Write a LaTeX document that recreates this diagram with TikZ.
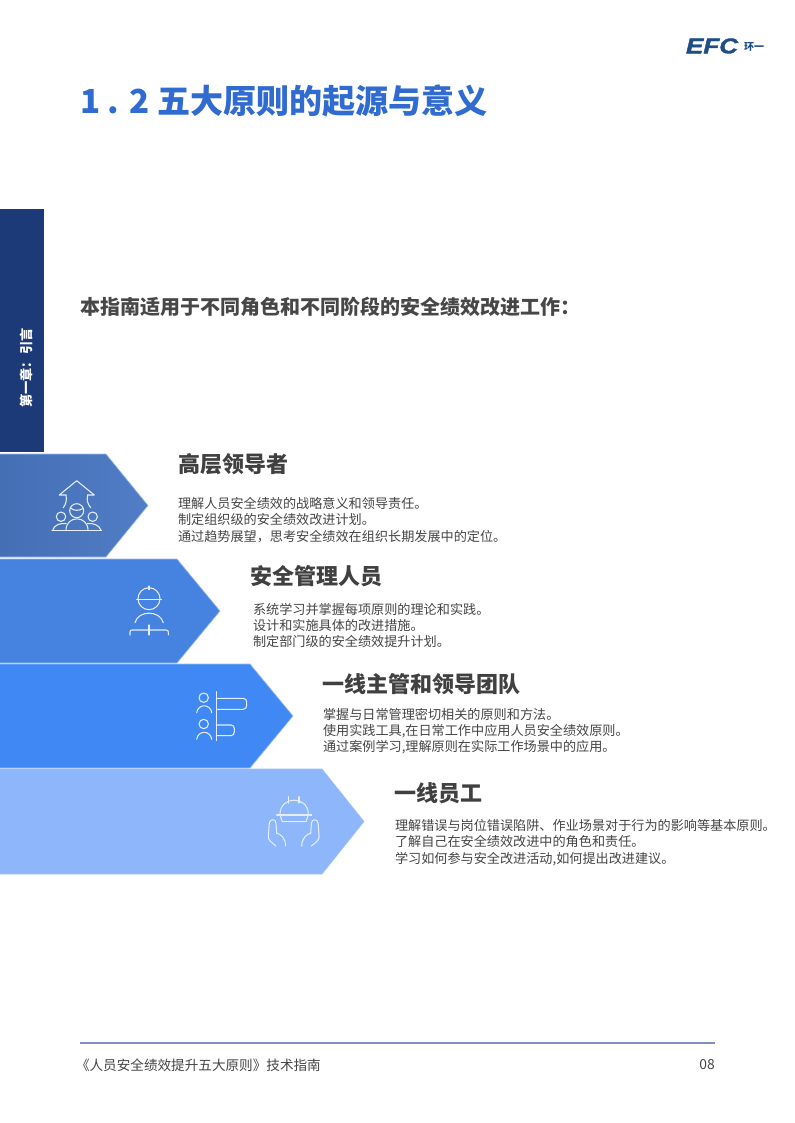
\documentclass[tikz,border=0pt]{standalone}
\usepackage{fontspec}
\setmainfont{Noto Sans CJK SC}
\newfontfamily\logofont{Liberation Sans}[BoldItalicFeatures={FakeBold=1.5}]
\definecolor{titleblue}{HTML}{2F6BD0}
\definecolor{navy}{HTML}{1C3A78}
\definecolor{headgrey}{HTML}{404040}
\definecolor{bodygrey}{HTML}{454545}
\definecolor{rulecol}{HTML}{7F8FC0}
\definecolor{iconline}{HTML}{E3EDFC}
\definecolor{edgelight}{HTML}{9DBDF2}
\definecolor{cA}{HTML}{4A78C4}
\definecolor{cB}{HTML}{4683E0}
\definecolor{cC}{HTML}{4089F5}
\definecolor{cD}{HTML}{8DB6FB}
\definecolor{logoblue}{HTML}{1F4E86}
\tikzset{
  x=0.75pt,y=-0.75pt,
  txt/.style={anchor=west,inner sep=0pt,outer sep=0pt},
  headtxt/.style={txt,text=headgrey,font=\fontsize{16.5}{20}\selectfont\bfseries},
  bodytxt/.style={txt,text=bodygrey,align=left,font=\fontsize{9.85}{12.25}\selectfont},
  chevron/.style={draw=edgelight,line width=0.5pt},
  icon/.style={draw=iconline,line width=0.8pt,line cap=round,line join=round},
}
\begin{document}
\begin{tikzpicture}
\useasboundingbox (0,0) rectangle (794,1123);
\fill[white] (0,0) rectangle (794,1123);
% sidebar
\fill[navy] (0,209) rectangle (44,452);
\node[inner sep=0pt,rotate=90,text=white,font=\fontsize{9.9}{11}\selectfont\bfseries] (side) at (26,368) {第一章：引言};
% logo
\node[txt,xscale=1.22,text=logoblue,font=\logofont\fontsize{16}{20}\selectfont\bfseries\itshape] (logo) at (686,46) {EFC};
\node[txt,text=logoblue,font=\fontsize{7.5}{9}\selectfont\bfseries] (logocn) at (744,47) {环一};
% title
\node[txt,text=titleblue,font=\fontsize{24.8}{30}\selectfont\bfseries] (title) at (80,101) {1 . 2 五大原则的起源与意义};
\node[txt,text=black!72,font=\fontsize{15}{18}\selectfont\bfseries] (sub) at (80,307) {本指南适用于不同角色和不同阶段的安全绩效改进工作：};
% chevrons
\path[chevron,left color=cA!92!black,right color=cA!96!white] (-3,454) -- (106,454) -- (148,505.5) -- (106,557) -- (-3,557) -- cycle;
\path[chevron,fill=cB] (-3,559) -- (177,559) -- (220,611) -- (177,663) -- (-3,663) -- cycle;
\path[chevron,fill=cC] (-3,664) -- (250,664) -- (293,716) -- (250,768) -- (-3,768) -- cycle;
\path[chevron,fill=cD,draw=cD!85!white] (-3,769) -- (322,769) -- (364,821.5) -- (322,874) -- (-3,874) -- cycle;
% icon 1
\draw[icon] (66,495) -- (59.3,495) -- (76.7,480.7) -- (94.3,495) -- (87.7,495);
\draw[icon] (66,495) .. controls (67,500) and (66,504) .. (63.3,507.7);
\draw[icon] (87.7,495) .. controls (86.5,500) and (87.5,504) .. (90.7,507.7);
\draw[icon] (76.7,510.7) circle (7);
\draw[icon] (70.5,508) .. controls (74,511) and (79,511) .. (83,508.5);
\draw[icon] (61,516.7) circle (4.7);
\draw[icon] (92.7,516.7) circle (4.7);
\draw[icon] (52,530.3) -- (101.7,530.3);
\draw[icon] (66,530.3) .. controls (66,515) and (88,515) .. (88,530.3);
\draw[icon] (52.7,530.3) .. controls (54,525) and (60,523) .. (66,523.5);
\draw[icon] (101,530.3) .. controls (99.5,525) and (93,523) .. (87.5,523.5);
% icon 2
\draw[icon] (149,598.7) circle (11);
\draw[icon] (136.7,599.3) -- (161.7,599.3);
\draw[icon] (149,586) -- (149,589.5);
\draw[icon] (135,622.7) .. controls (138,610) and (160,610) .. (163.3,622.7);
\draw[icon] (130,635) -- (130,632) .. controls (130,630.5) and (131,630) .. (132,630) -- (166,630) .. controls (167.5,630) and (168.3,630.5) .. (168.3,632) -- (168.3,635);
\draw[icon] (149,625) -- (149,635);
% icon 3
\draw[icon] (203.7,697.7) circle (4.7);
\draw[icon] (196.7,712.7) .. controls (198,703.5) and (210.5,703.5) .. (211.7,712.7);
\draw[icon] (203.7,724) circle (4.7);
\draw[icon] (196.7,739.3) .. controls (198,730) and (210.5,730) .. (211.7,739.3);
\draw[icon] (216.7,691.7) -- (216.7,740.7);
\draw[icon] (216.7,698.3) -- (243,698.3) .. controls (245.5,698.3) and (246.7,700) .. (246.7,702) -- (246.7,705.5) .. controls (246.7,707.7) and (245.5,709.3) .. (243,709.3) -- (216.7,709.3);
\draw[icon] (216.7,725) -- (231,725) .. controls (233,725) and (234.3,726.5) .. (234.3,728.5) -- (234.3,732) .. controls (234.3,734) and (233,735.7) .. (231,735.7) -- (216.7,735.7);
% icon 4
\draw[icon] (280,814.3) .. controls (280,795.5) and (308.3,795.5) .. (308.3,814.3);
\draw[icon] (276.7,815) -- (311.7,815);
\draw[icon] (280,815) -- (282.3,821.7) -- (306,821.7) -- (308.3,815);
\draw[icon] (288.3,796.7) -- (288.3,803);
\draw[icon] (299,796.7) -- (299,803);
\draw[icon] (276,846) .. controls (271,842) and (268.3,840) .. (268.3,836.7) -- (269.3,823.3) .. controls (269.5,818.5) and (276,818.5) .. (276,823.3) -- (276.7,833.3) .. controls (280,833.5) and (285.7,838) .. (285.7,846);
\draw[icon] (311.4,846) .. controls (316.4,842) and (319.1,840) .. (319.1,836.7) -- (318.1,823.3) .. controls (317.9,818.5) and (311.4,818.5) .. (311.4,823.3) -- (310.7,833.3) .. controls (307.4,833.5) and (301.7,838) .. (301.7,846);
% texts
\node[headtxt] (h1) at (178,464) {高层领导者};
\node[bodytxt] (b1) at (178,520) {理解人员安全绩效的战略意义和领导责任。\\制定组织级的安全绩效改进计划。\\通过趋势展望，思考安全绩效在组织长期发展中的定位。};
\node[headtxt] (h2) at (250,576) {安全管理人员};
\node[bodytxt] (b2) at (253,625.5) {系统学习并掌握每项原则的理论和实践。\\设计和实施具体的改进措施。\\制定部门级的安全绩效提升计划。};
\node[headtxt] (h3) at (322,684) {一线主管和领导团队};
\node[bodytxt] (b3) at (323,731) {掌握与日常管理密切相关的原则和方法。\\使用实践工具,在日常工作中应用人员安全绩效原则。\\通过案例学习,理解原则在实际工作场景中的应用。};
\node[headtxt] (h4) at (394,793) {一线员工};
\node[bodytxt] (b4) at (395,842.5) {理解错误与岗位错误陷阱、作业场景对于行为的影响等基本原则。\\了解自己在安全绩效改进中的角色和责任。\\学习如何参与安全改进活动,如何提出改进建议。};
% footer
\coordinate (ruleL) at (80,1043);
\coordinate (ruleR) at (715,1043);
\draw[rulecol,line width=0.9pt] (ruleL) -- (ruleR);
\node[txt,text=bodygrey,font=\fontsize{10.2}{12}\selectfont] (foot) at (76,1065) {《人员安全绩效提升五大原则》技术指南};
\node[anchor=east,inner sep=0pt,text=bodygrey,font=\fontsize{10.4}{12}\selectfont] (page) at (715,1065) {08};
\end{tikzpicture}
\end{document}
